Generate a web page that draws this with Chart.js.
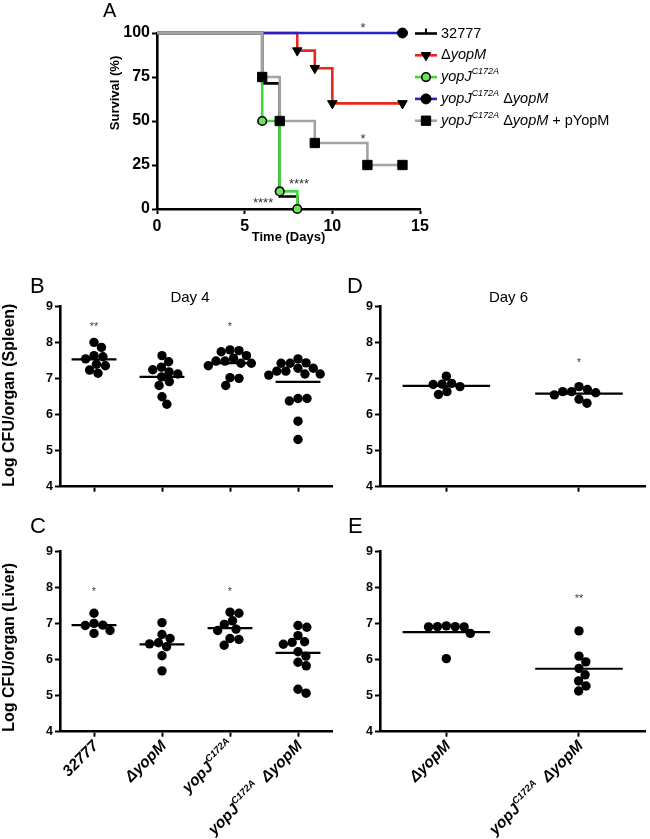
<!DOCTYPE html>
<html>
<head>
<meta charset="utf-8">
<script src="https://cdn.jsdelivr.net/npm/chart.js@4.4.1/dist/chart.umd.min.js"></script>
<style>
  html, body { margin: 0; padding: 0; background: #fff; }
  #fig { position: relative; width: 650px; height: 839px; overflow: hidden; }
  #fig canvas { position: absolute; }
</style>
</head>
<body>
<div id="fig"></div>
<script>
// ---- panel A: survival (%) per day ----
const seriesNames = ['32777', 'Δ*yopM*', '*yopJ^C172A^*', '*yopJ^C172A^* Δ*yopM*', '*yopJ^C172A^* Δ*yopM* + pYopM'];
const days32777 = [0, 6, 7, 8];
const surv32777 = [100, 71.4, 7.1, 0];
const daysYopM = [0, 8, 9, 10, 14];
const survYopM = [100, 90, 80, 60, 60];
const daysYopJ = [0, 6, 7, 8];
const survYopJ = [100, 50, 10, 0];
const daysDouble = [0, 14];
const survDouble = [100, 100];
const daysComp = [0, 6, 7, 9, 12, 14];
const survComp = [100, 75, 50, 37.5, 25, 25];
const dayTicks = [0, 5, 10, 15];
const survTicks = [0, 25, 50, 75, 100];

// ---- panels B-E: log CFU/organ ----
const day4Groups = ['32777', 'Δ*yopM*', '*yopJ^C172A^*', '*yopJ^C172A^*  Δ*yopM*'];
const day6Groups = ['Δ*yopM*', '*yopJ^C172A^*  Δ*yopM*'];
const cfuTicks = [4, 5, 6, 7, 8, 9];

const spleen4_wt = [8.01, 7.87, 7.64, 7.61, 7.55, 7.40, 7.36, 7.24, 7.15];
const spleen4_yopM = [7.64, 7.47, 7.32, 7.25, 7.19, 7.13, 7.05, 6.92, 6.81, 6.50, 6.29];
const spleen4_yopJ = [7.80, 7.78, 7.75, 7.64, 7.57, 7.49, 7.49, 7.43, 7.43, 7.36, 7.03, 7.01, 6.81];
const spleen4_double = [7.55, 7.44, 7.43, 7.43, 7.29, 7.29, 7.21, 7.21, 7.13, 7.13, 7.10, 6.45, 6.45, 6.38, 5.82, 5.31];
const liver4_wt = [7.29, 7.01, 6.96, 6.95, 6.81, 6.73];
const liver4_yopM = [7.03, 6.70, 6.59, 6.47, 6.44, 6.36, 6.11, 5.69];
const liver4_yopJ = [7.32, 7.29, 7.08, 6.98, 6.85, 6.81, 6.59, 6.56, 6.40];
const liver4_double = [6.95, 6.90, 6.67, 6.50, 6.48, 6.43, 6.22, 6.10, 5.93, 5.83, 5.18, 5.07];
const spleen6_yopM = [7.07, 6.87, 6.85, 6.84, 6.78, 6.64, 6.56];
const spleen6_double = [6.78, 6.70, 6.64, 6.64, 6.61, 6.55, 6.43, 6.32];
const liver6_yopM = [6.94, 6.92, 6.92, 6.91, 6.91, 6.73, 6.03];
const liver6_double = [6.80, 6.10, 5.94, 5.76, 5.58, 5.41, 5.27, 5.13];

const spleen4Stars = ['**', '', '*', ''];
const liver4Stars = ['*', '', '*', ''];
const spleen6Stars = ['', '*'];
const liver6Stars = ['', '**'];

// ---- layout ----
const FAM = '"Liberation Sans", Arial, Helvetica, sans-serif';
Chart.defaults.font.family = FAM;
Chart.defaults.color = '#000';

const LA = { left: 100, top: 0, width: 550, height: 248, area: { l: 157, t: 33, r: 420, b: 209 } };
const LB = { left: 0, top: 268, width: 340, height: 230, area: { l: 60, t: 306.7, r: 332, b: 486.7 } };
const LC = { left: 0, top: 500, width: 340, height: 339, area: { l: 60, t: 551.7, r: 332, b: 731.7 } };
const LD = { left: 340, top: 268, width: 310, height: 230, area: { l: 380, t: 306.7, r: 648, b: 486.7 } };
const LE = { left: 340, top: 500, width: 310, height: 339, area: { l: 380, t: 551.7, r: 648, b: 731.7 } };

const RED = '#e8271d', GREEN = '#3fd83a', BLUE = '#2323c8', GRAY = '#a3a3a3';

function makeCanvas(L) {
    const c = document.createElement('canvas');
    c.width = L.width;
    c.height = L.height;
    c.style.left = L.left + 'px';
    c.style.top = L.top + 'px';
    document.getElementById('fig').appendChild(c);
    return c;
}

function fixedLayout(L) {
    return {
        padding: { top: L.area.t - L.top, right: L.left + L.width - L.area.r, left: 0, bottom: 0 },
        yWidth: L.area.l - L.left,
        xHeight: L.top + L.height - L.area.b
    };
}

// rich text: *italic*, ^superscript^
function parseRich(str) {
    const out = [];
    let it = false, sup = false, buf = '';
    for (const ch of str) {
        if (ch === '*' || ch === '^') {
            if (buf) out.push({ t: buf, it, sup });
            buf = '';
            if (ch === '*') it = !it; else sup = !sup;
        } else {
            buf += ch;
        }
    }
    if (buf) out.push({ t: buf, it, sup });
    return out;
}

function drawRich(ctx, str, x, y, size, o) {
    const parts = parseRich(str);
    const fontOf = p => `${(p.it || o.italic) ? 'italic ' : ''}${o.bold ? 'bold ' : ''}${p.sup ? size * 0.62 : size}px ${FAM}`;
    let total = 0;
    parts.forEach(p => { ctx.font = fontOf(p); p.w = ctx.measureText(p.t).width; total += p.w; });
    let cx = o.align === 'right' ? x - total : x;
    ctx.textAlign = 'left';
    ctx.textBaseline = 'middle';
    parts.forEach(p => {
        ctx.font = fontOf(p);
        ctx.fillText(p.t, cx, p.sup ? y - size * 0.36 : y);
        cx += p.w;
    });
}

const axisGrid = { drawOnChartArea: false, drawTicks: true, tickLength: 5, tickWidth: 2, color: '#000' };
const axisBorder = { color: '#000', width: 2.6 };

// ---- panel A ----
const markA = [
    { style: 'tick', fill: '#000', r: 0, bw: 0 },
    { style: 'triangle', rot: 180, fill: '#000', r: 5.5, bw: 1 },
    { style: 'circle', fill: '#6fe060', r: 4.3, bw: 1.6 },
    { style: 'circle', fill: '#000', r: 5, bw: 1 },
    { style: 'rect', fill: '#000', r: 6.6, bw: 1 }
];
const colorsA = ['#000', RED, GREEN, BLUE, GRAY];

function survSet(days, surv, idx, order) {
    const m = markA[idx];
    return {
        data: days.map((d, i) => ({ x: d, y: surv[i] })),
        borderColor: colorsA[idx],
        borderWidth: 2.6,
        stepped: 'before',
        fill: false,
        pointRadius: days.map((d, i) => (i === 0 || m.style === 'tick') ? 0 : m.r),
        pointStyle: m.style,
        pointRotation: m.rot || 0,
        pointBackgroundColor: m.fill,
        pointBorderColor: '#000',
        pointBorderWidth: m.bw,
        clip: false,
        order
    };
}

function drawMarker(ctx, m, x, y, color) {
    if (m.style === 'tick') {
        ctx.strokeStyle = color;
        ctx.lineWidth = 2;
        ctx.beginPath();
        ctx.moveTo(x, y - 5);
        ctx.lineTo(x, y);
        ctx.stroke();
        return;
    }
    ctx.fillStyle = m.fill;
    ctx.strokeStyle = '#000';
    ctx.lineWidth = m.bw;
    Chart.helpers.drawPoint(ctx, { pointStyle: m.style, rotation: m.rot || 0, radius: m.r, borderWidth: m.bw }, x, y);
}

const survStars = [
    { text: '*', day: 11.75, pct: 105 },
    { text: '*', day: 11.75, pct: 42 },
    { text: '****', day: 8.1, pct: 16.5 },
    { text: '****', day: 6.05, pct: 5.7 }
];

const decorA = {
    id: 'decorA',
    afterDraw(chart) {
        const ctx = chart.ctx, ox = LA.left, oy = LA.top;
        const xs = chart.scales.x, ys = chart.scales.y;
        ctx.save();
        ctx.fillStyle = '#000';
        ctx.font = `20px ${FAM}`;
        ctx.textAlign = 'left';
        ctx.textBaseline = 'alphabetic';
        ctx.fillText('A', 103 - ox, 17 - oy);

        ctx.save();
        ctx.translate(115.5 - ox, 93 - oy);
        ctx.rotate(-Math.PI / 2);
        ctx.font = `bold 13px ${FAM}`;
        ctx.textAlign = 'center';
        ctx.textBaseline = 'middle';
        ctx.fillText('Survival (%)', 0, 0);
        ctx.restore();

        ctx.fillStyle = '#333';
        ctx.font = `13px ${FAM}`;
        ctx.textAlign = 'center';
        ctx.textBaseline = 'alphabetic';
        survStars.forEach(s => ctx.fillText(s.text, xs.getPixelForValue(s.day), ys.getPixelForValue(s.pct) + 13 * 0.58));

        // legend
        seriesNames.forEach((name, i) => {
            const y = 33.5 + i * 21.8 - oy;
            const x0 = 415 - ox, x1 = 437 - ox;
            ctx.strokeStyle = colorsA[i];
            ctx.lineWidth = 2.6;
            ctx.beginPath();
            ctx.moveTo(x0, y);
            ctx.lineTo(x1, y);
            ctx.stroke();
            drawMarker(ctx, markA[i], (x0 + x1) / 2, y, colorsA[i]);
            ctx.fillStyle = '#000';
            drawRich(ctx, name, 441 - ox, y, 14.5, { bold: false, align: 'left' });
        });
        ctx.restore();
    }
};

(function () {
    const canvas = makeCanvas(LA);
    const f = fixedLayout(LA);
    new Chart(canvas, {
        type: 'line',
        data: {
            datasets: [
                survSet(days32777, surv32777, 0, 5),
                survSet(daysYopM, survYopM, 1, 4),
                survSet(daysYopJ, survYopJ, 2, 3),
                survSet(daysDouble, survDouble, 3, 2),
                survSet(daysComp, survComp, 4, 1)
            ]
        },
        options: {
            responsive: false,
            animation: false,
            devicePixelRatio: 1,
            layout: { padding: f.padding },
            plugins: { legend: { display: false }, tooltip: { enabled: false } },
            scales: {
                x: {
                    type: 'linear', min: 0, max: 15,
                    afterBuildTicks: s => { s.ticks = dayTicks.map(v => ({ value: v })); },
                    ticks: { font: { size: 16, weight: 'bold' }, color: '#000', padding: 3, maxRotation: 0 },
                    grid: axisGrid, border: axisBorder,
                    title: { display: true, text: 'Time (Days)', font: { size: 13, weight: 'bold' }, color: '#000', padding: { top: 0, bottom: 3 } },
                    afterFit: s => { s.height = f.xHeight; }
                },
                y: {
                    min: 0, max: 100,
                    afterBuildTicks: s => { s.ticks = survTicks.map(v => ({ value: v })); },
                    ticks: { font: { size: 16, weight: 'bold' }, color: '#000', padding: 2 },
                    grid: axisGrid, border: axisBorder,
                    afterFit: s => { s.width = f.yWidth; }
                }
            }
        },
        plugins: [decorA]
    });
})();

// ---- panels B-E ----
// simple beeswarm: each dot goes as close to the group centre as it can without overlapping
function swarmX(values, center, pxX, pxY, gap) {
    const placed = [];
    const xs = [];
    values.map((v, i) => i).sort((a, b) => values[b] - values[a]).forEach(i => {
        const py = values[i] * pxY;
        const cands = [0];
        placed.forEach(p => {
            const dy = py - p.y;
            if (Math.abs(dy) < gap) {
                const dx = Math.sqrt(gap * gap - dy * dy);
                cands.push(p.x + dx, p.x - dx);
            }
        });
        cands.sort((a, b) => Math.abs(a) - Math.abs(b));
        const x = cands.find(c => placed.every(p => (p.x - c) ** 2 + (p.y - py) ** 2 >= gap * gap - 0.01));
        placed.push({ x, y: py });
        xs[i] = center + x / pxX;
    });
    return xs;
}

function cfuDecor(L, d) {
    return {
        id: 'decor',
        afterDraw(chart) {
            const ctx = chart.ctx, ox = L.left, oy = L.top;
            const xs = chart.scales.x, ys = chart.scales.y, a = chart.chartArea;
            ctx.save();
            ctx.fillStyle = '#000';
            ctx.font = `22px ${FAM}`;
            ctx.textAlign = 'left';
            ctx.textBaseline = 'alphabetic';
            ctx.fillText(d.letter, d.letterX - ox, d.letterY - oy);
            if (d.title) {
                ctx.font = `15px ${FAM}`;
                ctx.textAlign = 'center';
                ctx.fillText(d.title, d.titleX - ox, d.titleY - oy);
            }
            ctx.fillStyle = '#444';
            ctx.font = `11px ${FAM}`;
            ctx.textAlign = 'center';
            d.stars.forEach((s, i) => {
                if (s) ctx.fillText(s, xs.getPixelForValue(i + 1), ys.getPixelForValue(d.starY) + 11 * 0.58);
            });
            if (d.labels) {
                ctx.fillStyle = '#000';
                d.labels.forEach((lab, i) => {
                    ctx.save();
                    ctx.translate(xs.getPixelForValue(i + 1) + 2, a.bottom + 12);
                    ctx.rotate(-Math.PI / 4);
                    drawRich(ctx, lab, 0, 0, 15.5, { bold: true, italic: true, align: 'right' });
                    ctx.restore();
                });
            }
            ctx.restore();
        }
    };
}

function cfuChart(L, groups, cats, yTitle, d) {
    const canvas = makeCanvas(L);
    const f = fixedLayout(L);
    const pxX = (L.area.r - L.area.l) / cats.length;
    const pxY = (L.area.b - L.area.t) / (cfuTicks[cfuTicks.length - 1] - cfuTicks[0]);
    const points = [];
    const datasets = [];
    groups.forEach((vals, g) => {
        const xs = swarmX(vals, g + 1, pxX, pxY, 9);
        vals.forEach((v, i) => points.push({ x: xs[i], y: v }));
        const mean = vals.reduce((s, v) => s + v, 0) / vals.length;
        datasets.push({
            data: [{ x: g + 1 - 0.33, y: mean }, { x: g + 1 + 0.33, y: mean }],
            showLine: true, borderColor: '#000', borderWidth: 2.2, pointRadius: 0
        });
    });
    datasets.push({
        data: points, pointRadius: 4.7, pointBackgroundColor: '#000', pointBorderWidth: 0, clip: false
    });
    new Chart(canvas, {
        type: 'scatter',
        data: { datasets },
        options: {
            responsive: false,
            animation: false,
            devicePixelRatio: 1,
            layout: { padding: f.padding },
            plugins: { legend: { display: false }, tooltip: { enabled: false } },
            scales: {
                x: {
                    type: 'linear', min: 0.5, max: cats.length + 0.5,
                    afterBuildTicks: s => { s.ticks = cats.map((c, i) => ({ value: i + 1 })); },
                    ticks: { display: false },
                    grid: axisGrid, border: axisBorder,
                    afterFit: s => { s.height = f.xHeight; }
                },
                y: {
                    min: cfuTicks[0], max: cfuTicks[cfuTicks.length - 1],
                    afterBuildTicks: s => { s.ticks = cfuTicks.map(v => ({ value: v })); },
                    ticks: { font: { size: 12.5, weight: 'bold' }, color: '#000', padding: 2 },
                    grid: axisGrid, border: axisBorder,
                    title: yTitle
                        ? { display: true, text: yTitle, align: 'start', font: { size: 16, weight: 'bold' }, color: '#000', padding: 0 }
                        : { display: false },
                    afterFit: s => { s.width = f.yWidth; }
                }
            }
        },
        plugins: [cfuDecor(L, d)]
    });
}

cfuChart(LB, [spleen4_wt, spleen4_yopM, spleen4_yopJ, spleen4_double], day4Groups, 'Log CFU/organ (Spleen)',
    { letter: 'B', letterX: 30, letterY: 293, title: 'Day 4', titleX: 190, titleY: 302, stars: spleen4Stars, starY: 8.54 });
cfuChart(LC, [liver4_wt, liver4_yopM, liver4_yopJ, liver4_double], day4Groups, 'Log CFU/organ (Liver)',
    { letter: 'C', letterX: 30, letterY: 533, stars: liver4Stars, starY: 7.97, labels: day4Groups });
cfuChart(LD, [spleen6_yopM, spleen6_double], day6Groups, null,
    { letter: 'D', letterX: 347, letterY: 293, title: 'Day 6', titleX: 508.5, titleY: 302, stars: spleen6Stars, starY: 7.52 });
cfuChart(LE, [liver6_yopM, liver6_double], day6Groups, null,
    { letter: 'E', letterX: 348, letterY: 533, stars: liver6Stars, starY: 7.79, labels: day6Groups });
</script>
</body>
</html>
